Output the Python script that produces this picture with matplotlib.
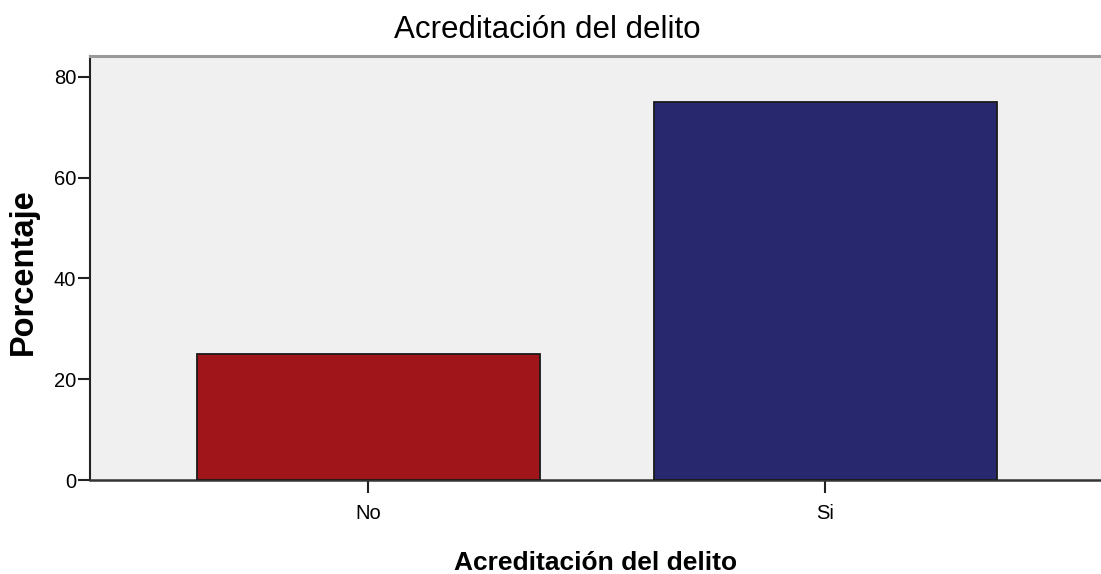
import matplotlib
matplotlib.use('Agg')
import matplotlib.pyplot as plt

# Data
categories = ['No', 'Si']
percentages = [25.0, 75.0]
bar_colors = ['#A0151A', '#27286E']
yticks = [0, 20, 40, 60, 80]

fig = plt.figure(figsize=(11.01, 5.74), dpi=100)
ax = fig.add_axes([90 / 1101, 1 - 480 / 574, 1 - 90 / 1101, (480 - 55.7) / 574])
ax.set_facecolor('#F0F0F0')

x = list(range(len(categories)))
ax.bar(x, percentages, width=0.75, color=bar_colors, edgecolor='#1a1a1a', linewidth=1.3, zorder=3)

ax.set_xlim(-0.609, 1.603)
ax.set_ylim(0, 84.2)
ax.set_xticks(x)
ax.set_xticklabels(categories)
ax.set_yticks(yticks)

for lab in ax.get_xticklabels() + ax.get_yticklabels():
    lab.set_family(['Liberation Sans', 'DejaVu Sans'])
    lab.set_fontsize(14.5)

ax.tick_params(axis='y', direction='out', length=8.5, width=1.5, color='#222222', pad=1.5)
ax.tick_params(axis='x', direction='out', length=9.5, width=1.5, color='#222222', pad=8)

ax.spines['right'].set_visible(False)
ax.spines['top'].set_color('#999999')
ax.spines['top'].set_linewidth(2.2)
ax.spines['left'].set_color('#222222')
ax.spines['left'].set_linewidth(1.5)
ax.spines['bottom'].set_color('#333333')
ax.spines['bottom'].set_linewidth(1.8)

fig.text(547 / 1101, 1 - 38 / 574, 'Acreditación del delito', ha='center', va='baseline',
         fontsize=22.5, family=['Liberation Sans', 'DejaVu Sans'])
fig.text(596 / 1101, 1 - 570 / 574, 'Acreditación del delito', ha='center', va='baseline',
         fontsize=19, fontweight='bold', family=['Liberation Sans', 'DejaVu Sans'])
fig.text(23 / 1101, 1 - 272 / 574, 'Porcentaje', ha='center', va='center', rotation=90,
         fontsize=23.5, fontweight='bold', family=['Liberation Sans', 'DejaVu Sans'])

fig.savefig('out.png', dpi=100)
